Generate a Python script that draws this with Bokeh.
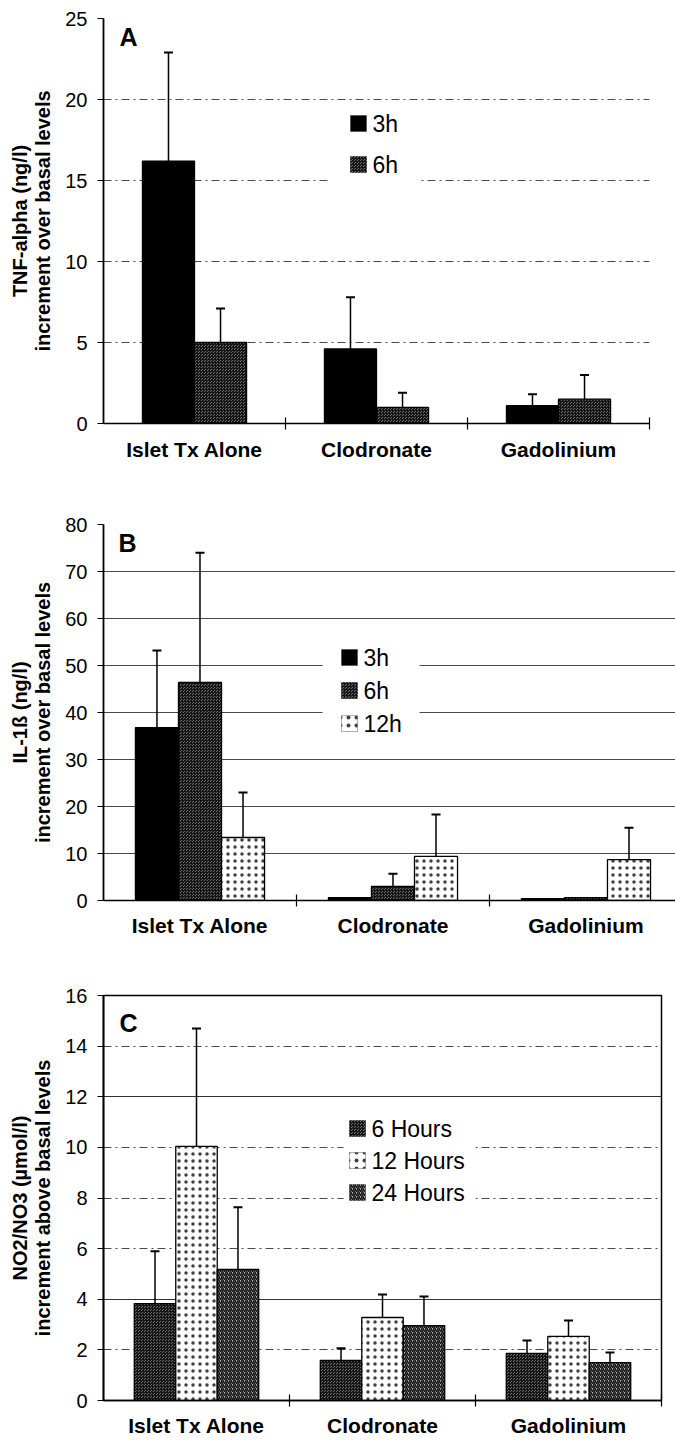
from bokeh.plotting import figure
from bokeh.layouts import column
from bokeh.models import (ColumnDataSource, FixedTicker, Whisker, TeeHead, BoxAnnotation,
                          Label, Range1d, Grid)
from bokeh.embed import file_html
from bokeh.resources import INLINE

categories = ["Islet Tx Alone", "Clodronate", "Gadolinium"]

# Panel A: TNF-alpha
tnf_labels = ["3h", "6h"]
tnf_3h = [16.2, 4.6, 1.1]
tnf_3h_err = [6.7, 3.2, 0.7]
tnf_6h = [5.0, 1.0, 1.5]
tnf_6h_err = [2.1, 0.9, 1.5]

# Panel B: IL-1ß
il_labels = ["3h", "6h", "12h"]
il_3h = [36.8, 0.6, 0.4]
il_3h_err = [16.4, 0.0, 0.0]
il_6h = [46.4, 3.0, 0.6]
il_6h_err = [27.6, 2.7, 0.0]
il_12h = [13.4, 9.4, 8.7]
il_12h_err = [9.6, 8.9, 6.8]

# Panel C: NO2/NO3
no_labels = ["6 Hours", "12 Hours", "24 Hours"]
no_6 = [3.83, 1.58, 1.86]
no_6_err = [2.07, 0.48, 0.51]
no_12 = [10.04, 3.28, 2.53]
no_12_err = [4.66, 0.91, 0.63]
no_24 = [5.18, 2.96, 1.50]
no_24_err = [2.45, 1.15, 0.40]

FONT = "Liberation Sans"

STYLES = {
    "solid": dict(fill_color="black"),
    "checker": dict(fill_color="#6e6e6e", hatch_pattern="criss_cross", hatch_color="#151515",
                    hatch_scale=3, hatch_weight=1),
    "dots": dict(fill_color="white", hatch_pattern="dot", hatch_color="black",
                 hatch_scale=7, hatch_weight=0.6, hatch_alpha=0.75),
    "diag": dict(fill_color="#b4b4b4", hatch_pattern="right_diagonal_line", hatch_color="#101010",
                 hatch_scale=4, hatch_weight=1.5),
}


def make_panel(series, y_end, y_step, ylabel, letter, letter_xy, frame_w, frame_h, x_end,
               borders, bar_w, grid_dash, solid_grid, outline, minor, label_standoff,
               leg_sq_left, leg_row0, leg_step, leg_bg):
    b_top, b_right, b_bottom, b_left = borders
    p = figure(frame_width=frame_w, frame_height=frame_h,
               x_range=Range1d(0, x_end), y_range=Range1d(0, y_end),
               output_backend="svg", toolbar_location=None, tools="",
               min_border_top=b_top, min_border_right=b_right,
               min_border_bottom=b_bottom, min_border_left=b_left,
               background_fill_color="white", border_fill_color="white")
    p.outline_line_color = "black" if outline else None
    p.outline_line_width = 1.5

    # pixel (relative to frame top-left) -> data
    def X(px):
        return px / frame_w * x_end

    def Y(py):
        return y_end - py / frame_h * y_end

    n = len(series)
    for k, (lab, vals, errs, sty) in enumerate(series):
        off = (k - (n - 1) / 2) * bar_w
        xs = [i + 0.5 + off for i in range(len(categories))]
        src = ColumnDataSource(dict(x=xs, top=vals))
        p.vbar(x="x", top="top", bottom=0, width=bar_w, source=src,
               line_color="black", line_width=1.3, **STYLES[sty])
        wx = [x for x, e in zip(xs, errs) if e > 0]
        wl = [v for v, e in zip(vals, errs) if e > 0]
        wu = [v + e for v, e in zip(vals, errs) if e > 0]
        wsrc = ColumnDataSource(dict(x=wx, lower=wl, upper=wu))
        p.add_layout(Whisker(base="x", lower="lower", upper="upper", source=wsrc,
                             dimension="height", line_color="black", line_width=1.5,
                             lower_head=None,
                             upper_head=TeeHead(size=9, line_width=2, line_color="black"),
                             level="annotation"))

    # legend (drawn as key boxes + text labels)
    bx0, by0, bx1, by1 = leg_bg
    p.add_layout(BoxAnnotation(left=X(bx0), right=X(bx1), top=Y(by0), bottom=Y(by1),
                               fill_color="white", fill_alpha=1.0, line_color=None,
                               level="annotation"))
    for k, (lab, vals, errs, sty) in enumerate(series):
        cy = leg_row0 + k * leg_step
        leg_style = dict(STYLES[sty])
        if sty == "dots":
            leg_style["hatch_scale"] = 8
        p.add_layout(BoxAnnotation(left=X(leg_sq_left), right=X(leg_sq_left + 16),
                                   top=Y(cy - 8), bottom=Y(cy + 8),
                                   line_color="black", line_width=1, fill_alpha=1.0,
                                   level="annotation", **leg_style))
        p.add_layout(Label(x=X(leg_sq_left + 22), y=Y(cy), text=lab, text_font=FONT,
                           text_font_size="23px", text_color="black",
                           text_baseline="middle", text_align="left"))

    # x axis
    xa = p.xaxis[0]
    xa.ticker = FixedTicker(ticks=[i + 0.5 for i in range(len(categories))], minor_ticks=minor)
    xa.major_label_overrides = {i + 0.5: c for i, c in enumerate(categories)}
    xa.major_tick_in = 0
    xa.major_tick_out = 0
    xa.minor_tick_in = 6
    xa.minor_tick_out = 6
    xa.minor_tick_line_color = "black"
    xa.minor_tick_line_width = 1.2
    xa.axis_line_color = "black"
    xa.axis_line_width = 1.5
    xa.major_label_text_font = FONT
    xa.major_label_text_font_style = "bold"
    xa.major_label_text_font_size = "21px"
    xa.major_label_text_color = "black"
    xa.major_label_standoff = label_standoff

    # y axis
    ya = p.yaxis[0]
    ticks = list(range(0, y_end + 1, y_step))
    ya.ticker = FixedTicker(ticks=ticks, minor_ticks=[])
    ya.major_tick_in = 0
    ya.major_tick_out = 6
    ya.major_tick_line_color = "black"
    ya.major_tick_line_width = 1.2
    ya.axis_line_color = "black"
    ya.axis_line_width = 1.8
    ya.major_label_text_font = FONT
    ya.major_label_text_font_size = "20px"
    ya.major_label_text_color = "black"
    ya.major_label_standoff = 10
    ya.axis_label = ylabel
    ya.axis_label_text_font = FONT
    ya.axis_label_text_font_style = "bold"
    ya.axis_label_text_font_size = "20px"
    ya.axis_label_text_color = "black"
    ya.axis_label_standoff = 8
    ya.axis_label_text_line_height = 1.05

    # grids
    p.xgrid.visible = False
    gticks = [t for t in ticks if 0 < t < y_end and t not in solid_grid]
    p.ygrid.ticker = FixedTicker(ticks=gticks, minor_ticks=[])
    p.ygrid.grid_line_color = "#4a4a4a"
    p.ygrid.grid_line_width = 1
    p.ygrid.grid_line_dash = grid_dash
    if solid_grid:
        p.add_layout(Grid(dimension=1, ticker=FixedTicker(ticks=solid_grid, minor_ticks=[]),
                          grid_line_color="#333333", grid_line_width=1))

    p.add_layout(Label(x=letter_xy[0], y=letter_xy[1], text=letter, text_font=FONT,
                       text_font_style="bold", text_font_size="25px", text_color="black",
                       text_baseline="alphabetic"))
    return p


pA = make_panel(
    [("3h", tnf_3h, tnf_3h_err, "solid"), ("6h", tnf_6h, tnf_6h_err, "checker")],
    25, 5, "TNF-alpha (ng/l)\nincrement over basal levels", "A", (0.088, 23.83),
    546, 405, 3.0, (18, 28, 42, 101), 0.286, "8 4 2 4", [], False,
    [1, 2, 3], 8,
    247, 105, 41, (226, 86, 315, 168))

pB = make_panel(
    [("3h", il_3h, il_3h_err, "solid"), ("6h", il_6h, il_6h_err, "checker"),
     ("12h", il_12h, il_12h_err, "dots")],
    80, 10, "IL-1ß (ng/l)\nincrement over basal levels", "B", (0.078, 75.96),
    572, 376, 2.964, (59, 0, 40, 103), 0.223, "solid", [], False,
    [1, 2], 7,
    238, 133, 33, (219, 106, 316, 221))

pC = make_panel(
    [("6 Hours", no_6, no_6_err, "checker"), ("12 Hours", no_12, no_12_err, "dots"),
     ("24 Hours", no_24, no_24_err, "diag")],
    16, 2, "NO2/NO3 (µmol/l)\nincrement above basal levels", "C", (0.086, 14.9),
    558, 405, 3.0, (55, 16, 40, 101), 0.223, "8 4 2 4", [4, 12], True,
    [1, 2, 3], 7,
    246, 133, 32, (240, 110, 372, 217))

layout = column(pA, pB, pC, spacing=0)
open("out.html", "w").write(file_html(layout, INLINE))
